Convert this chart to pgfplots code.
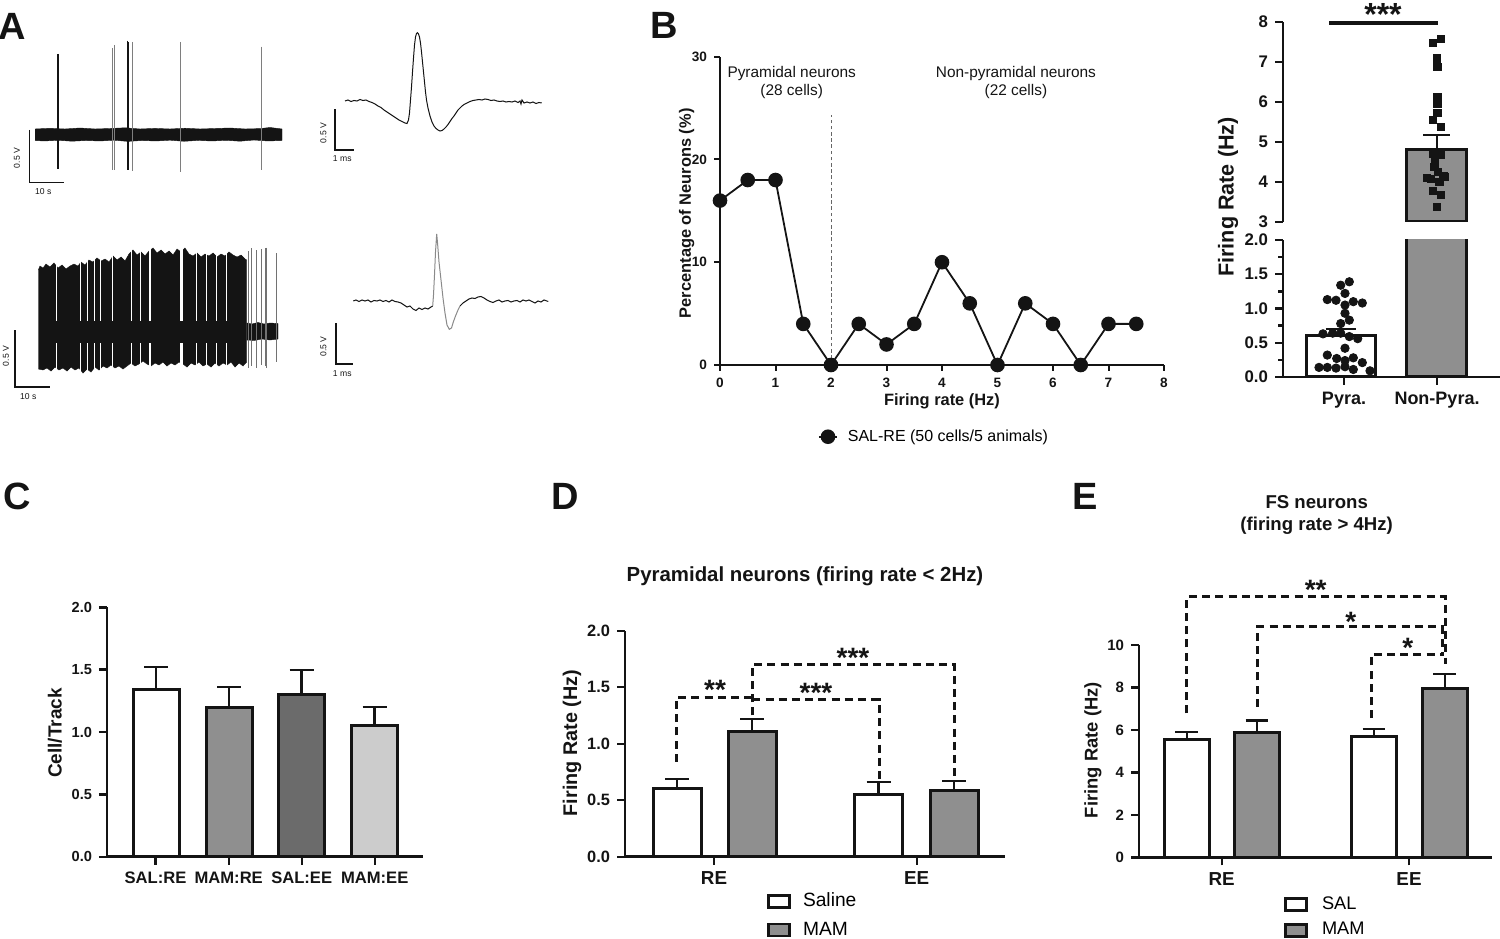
\documentclass[border=0pt]{standalone}
\usepackage{fontspec}
\setmainfont{Liberation Sans}
\usepackage{pgfplots}
\pgfplotsset{compat=1.18}
\definecolor{ink}{gray}{0.08}
\definecolor{gA}{gray}{0.56}
\definecolor{gDark}{gray}{0.42}
\definecolor{gLight}{gray}{0.80}
\pgfplotsset{
  pan/.style={scale only axis, anchor=south west,
    axis x line*=bottom, axis y line*=left,
    axis line style={line width=1.4pt, ink, -},
    tick align=outside, major tick length=4pt, minor tick length=2.5pt,
    tick style={line width=1.2pt, ink},
    /pgf/number format/assume math mode=true,
    tick label style={font=\bfseries\fontsize{7.5}{9}\selectfont, text=ink},
    label style={font=\bfseries\fontsize{9.5}{11}\selectfont, text=ink},
    enlargelimits=false},
  onedec/.style={yticklabel style={/pgf/number format/fixed, /pgf/number format/fixed zerofill, /pgf/number format/precision=1}},
  bar/.style={ybar, bar shift=0pt, draw=ink, line width=1.5pt},
  eb/.style={error bars/.cd, y dir=plus, y explicit,
    error bar style={line width=1.1pt, ink},
    error mark options={rotate=90, line width=1.1pt, ink, mark size=#1}},
  sig/.style={line width=1.5pt, ink, dash pattern=on 4pt off 2.6pt},
  boxleg/.style={legend image code/.code={\draw[##1, line width=1.3pt] (0pt,-3pt) rectangle (10.5pt,3pt);}},
  dotleg/.style={legend image code/.code={\draw[mark repeat=2, mark phase=2, ##1] plot coordinates {(0pt,0pt) (4.5pt,0pt) (9pt,0pt)};}},
}
\tikzset{star/.style={font=\bfseries\fontsize{14}{14}\selectfont, anchor=base, yshift=-8pt, inner sep=0pt, text=ink}}
\begin{document}
\begin{tikzpicture}
\useasboundingbox (0,0) rectangle (750pt,469pt);
% ---------- canvas axis (pixels) : panel A traces, letters ----------
\begin{axis}[at={(0pt,0pt)}, anchor=south west, width=750pt, height=469pt, scale only axis,
  xmin=0, xmax=1500, ymin=0, ymax=938, y dir=reverse, hide axis, clip=false]
% top-left trace: noise band
\addplot[fill=ink, draw=ink, line width=0.2pt] coordinates {
 (35,129) (50,128.3) (65,129) (80,128) (95,129) (110,128.5) (125,127.8) (140,129) (155,128.4) (170,129) (185,128.2) (200,129) (215,128.5) (230,128) (245,129) (260,128.6) (270,127.5) (282,129)
 (282,140.5) (268,141) (254,140) (240,141.2) (226,140.3) (212,141) (198,140.4) (184,141.3) (170,140.2) (156,141) (142,140.5) (128,141.4) (114,140.2) (100,141) (86,140.5) (72,141.2) (58,140.3) (44,141) (35,140.5)};
\addplot[ink!55, line width=0.35pt, unbounded coords=jump] coordinates {
 (112.7,48) (112.7,170) (112.7,nan) (114.7,45) (114.7,170) (114.7,nan)
 (132.3,42) (132.3,171) (132.3,nan) (180,42) (180,171.7) (180,nan) (261,46.7) (261,170)};
\addplot[ink, line width=0.6pt, unbounded coords=jump] coordinates {
 (127.3,40.7) (127.3,170) (127.3,nan) (128.7,42) (128.7,170)};
\addplot[ink, line width=1pt] coordinates {(57.7,54) (57.7,169)};
% top-left scale bar
\addplot[ink, line width=0.8pt] coordinates {(29.3,130) (29.3,182.7) (64.3,182.7)};
% bottom-left trace: dense bursting
\addplot[fill=ink, draw=ink, line width=0.2pt] coordinates {
 (38.3,270) (40,266) (43,268) (46,264) (50,267) (54,263) (58,268) (62,265) (66,269) (70,266) (74,264) (78,266) (81,262) (85,265) (89,260) (93,262) (97,258) (101,261) (105,259) (109,262) (113,256) (117,260) (121,257) (125,261) (129,254) (133,250) (137,255) (141,252) (145,256) (149,251) (153,248) (157,253) (161,250) (165,254) (169,251) (173,255) (177,249) (181,252) (185,248) (189,254) (193,256) (197,253) (201,257) (205,254) (209,256) (213,253) (217,257) (221,254) (225,256) (229,252) (233,255) (237,257) (241,255) (245,259) (246.7,260)
 (246.7,362) (243,366) (239,363) (235,367) (231,362) (227,365) (223,363) (219,366) (215,363) (211,367) (207,364) (203,366) (199,362) (195,365) (191,363) (187,367) (183,364) (179,362) (175,365) (171,363) (167,366) (163,362) (159,365) (155,363) (151,366) (147,364) (143,361) (139,364) (135,366) (131,363) (127,366) (123,369) (119,366) (115,368) (111,365) (107,368) (103,366) (99,370) (95,367) (91,372) (87,369) (83,373) (79,368) (75,370) (71,367) (67,371) (63,368) (59,370) (55,367) (51,371) (47,368) (43,370) (38.3,369)};
\addplot[fill=ink, draw=ink, line width=0.2pt] coordinates {
 (246.7,323) (252,324) (258,322.5) (264,324) (270,323) (278,323.5) (278,339) (270,340) (262,339) (254,340.5) (246.7,340)};
% gaps between bursts
\addplot[white, line width=0.5pt, unbounded coords=jump] coordinates {
 (56.7,240) (56.7,321) (56.7,nan) (56.7,343) (56.7,380) (56.7,nan)
 (80,240) (80,321) (80,nan) (80,343) (80,380) (80,nan)
 (87.3,240) (87.3,321) (87.3,nan) (87.3,343) (87.3,380) (87.3,nan)
 (94,240) (94,321) (94,nan) (94,343) (94,380) (94,nan)
 (100,240) (100,321) (100,nan) (100,343) (100,380) (100,nan)
 (112.3,240) (112.3,321) (112.3,nan) (112.3,343) (112.3,380) (112.3,nan)
 (131.7,240) (131.7,321) (131.7,nan) (131.7,343) (131.7,380) (131.7,nan)
 (140,240) (140,321) (140,nan) (140,343) (140,380) (140,nan)
 (196.7,240) (196.7,321) (196.7,nan) (196.7,343) (196.7,380) (196.7,nan)
 (206.7,240) (206.7,321) (206.7,nan) (206.7,343) (206.7,380) (206.7,nan)
 (216.7,240) (216.7,321) (216.7,nan) (216.7,343) (216.7,380) (216.7,nan)
 (226.7,240) (226.7,321) (226.7,nan) (226.7,343) (226.7,380)};
\addplot[white, line width=1.4pt, unbounded coords=jump] coordinates {
 (150,240) (150,321) (150,nan) (150,343) (150,380) (150,nan)
 (181.7,240) (181.7,321) (181.7,nan) (181.7,343) (181.7,380)};
\addplot[ink!60, line width=0.35pt, unbounded coords=jump] coordinates {
 (248.3,251) (248.3,368) (248.3,nan) (251.7,248) (251.7,366) (251.7,nan)
 (256.7,250) (256.7,368) (256.7,nan) (261,249) (261,365) (261,nan)
 (265,248) (265,366) (265,nan) (266.7,247.7) (266.7,368) (266.7,nan) (276.7,253) (276.7,362)};
\addplot[ink, line width=0.8pt] coordinates {(15,330) (15,386.7) (50,386.7)};
% top-right waveform
\addplot[ink, line width=0.5pt] coordinates {
 (345,101) (348,100) (351,101.5) (354,100.5) (357,101) (360,99.5) (363,100.5) (366,100) (369,101.5) (372,102.5) (375,104) (378,106) (381,107.5) (384,110) (387,112) (390,114) (393,116) (396,118) (399,120) (402,121.5) (405,123) (407,123.5) (408.5,120) (409.5,113) (410.5,100) (411.5,87) (412.5,72) (413.5,58) (414.5,45) (415.5,37) (416.5,33.5) (417.5,32.7) (418.5,34) (419.5,37) (420.5,43) (421.5,52) (422.5,62) (423.5,72) (424.5,82) (425.5,92) (426.5,100) (428,108) (430,116) (432,122) (434,126) (436,128.5) (438,130) (440,131) (442,130.5) (444,129) (446,127) (448,124.5) (450,121.5) (452,118.5) (454,116) (456,113) (458,110) (460,108) (462,106) (464,104.5) (467,103) (470,101.5) (473,100.5) (476,100) (479,99.5) (482,100) (485,99) (488,99.5) (491,100.5) (494,100) (497,101) (500,101.5) (503,101) (506,102) (509,101.5) (512,102) (515,101) (518,102.5) (520,101) (521,104) (522,100) (524,103) (527,102) (530,103) (533,102) (536,103.5) (539,102.5) (541.7,103)};
\addplot[ink, line width=0.8pt] coordinates {(335,109.3) (335,150) (354.3,150)};
% bottom-right waveform
\addplot[ink, line width=0.5pt] coordinates {
 (353.3,301) (356,300) (359,301.5) (362,300) (365,301) (368,300) (371,302) (374,300.5) (377,301) (380,300) (383,301.5) (386,300.5) (389,302) (392,300) (395,301.5) (398,302) (401,303) (404,305) (407,307) (410,306) (413,309) (416,310.5) (419,308) (422,309.5) (425,308) (428,309) (431,307) (432.7,306)};
\addplot[ink!50, line width=0.5pt] coordinates {
 (432.7,306) (433.5,295) (434.5,275) (435.5,252) (436.7,234) (437.7,245) (439,262) (441,280) (443,298) (445,313) (447,325) (449.3,329.3) (451.5,328) (453.3,322) (455.5,316) (458,310) (460,306)};
\addplot[ink, line width=0.5pt] coordinates {
 (460,306) (463,303) (466,301) (469,299) (472,298) (475,298.5) (478,297) (481,296.5) (484,298) (487,300) (490,301.5) (493,302.5) (496,301) (499,300) (502,302) (505,301) (508,300.5) (511,302) (514,301) (517,300.5) (520,302) (523,300) (526,301) (529,300) (532,301.5) (535,303) (538,301) (541,302) (544,300) (548.3,301.5)};
\addplot[ink, line width=0.8pt] coordinates {(335.7,323.3) (335.7,364) (353.3,364)};
% scale bar labels
\begin{scope}[every node/.style={font=\fontsize{4.3}{5}\selectfont, text=ink, inner sep=0pt}]
\node[rotate=90] at (axis cs:17,158) {0.5 V};
\node at (axis cs:43.3,192) {10 s};
\node[rotate=90] at (axis cs:323.3,133) {0.5 V};
\node at (axis cs:342.3,159) {1 ms};
\node[rotate=90] at (axis cs:6,356) {0.5 V};
\node at (axis cs:28.3,397) {10 s};
\node[rotate=90] at (axis cs:323.3,346.7) {0.5 V};
\node at (axis cs:342.3,373.3) {1 ms};
\end{scope}
% significance in B right
\addplot[ink, line width=1.6pt] coordinates {(1329,23) (1438,23)};
\node[star, font=\bfseries\fontsize{16}{16}\selectfont, yshift=-1.1pt] at (axis cs:1383,7) {***};
% panel letters
\begin{scope}[every node/.style={font=\bfseries\fontsize{19}{19}\selectfont, text=ink, inner sep=0pt}]
\node at (axis cs:12,26) {A};
\node at (axis cs:664,25) {B};
\node at (axis cs:17,496) {C};
\node at (axis cs:565,496) {D};
\node at (axis cs:1085,496) {E};
\end{scope}
\end{axis}

% ---------- B left: distribution ----------
\begin{axis}[pan, at={(360pt,286.5pt)}, width=222pt, height=154.15pt,
  xmin=0, xmax=8, ymin=0, ymax=30, clip=false,
  axis line style={line width=1.2pt}, major tick length=3pt, tick style={line width=1pt},
  xtick={0,...,8}, ytick={0,10,20,30},
  tick label style={font=\bfseries\fontsize{6.8}{8}\selectfont},
  xlabel={Firing rate (Hz)}, ylabel={Percentage of Neurons (\%)},
  label style={font=\bfseries\fontsize{8.2}{9}\selectfont},
  xlabel style={at={(axis description cs:0.5,-0.119)}, anchor=center},
  ylabel style={at={(axis description cs:-0.0752,0.492)}, anchor=center},
  legend style={at={(axis cs:1.76,-6.98)}, anchor=west, draw=none, fill=none, inner sep=0pt,
    column sep=3pt, font=\fontsize{8}{9}\selectfont},
  dotleg]
\addplot[gray!80!black, line width=0.5pt, dash pattern=on 1.8pt off 1.3pt, forget plot] coordinates {(2,0) (2,24.3)};
\addplot[ink, line width=0.9pt, mark=*, mark size=3.2pt, mark options={fill=ink}] coordinates {
 (0,16) (0.5,18) (1,18) (1.5,4) (2,0) (2.5,4) (3,2) (3.5,4) (4,10) (4.5,6) (5,0) (5.5,6) (6,4) (6.5,0) (7,4) (7.5,4)};
\addlegendentry{SAL-RE (50 cells/5 animals)}
\node[align=center, font=\fontsize{7.7}{9.2}\selectfont, text=ink] at (axis cs:1.292,27.49) {Pyramidal neurons\\(28 cells)};
\node[align=center, font=\fontsize{7.7}{9.2}\selectfont, text=ink] at (axis cs:5.332,27.49) {Non-pyramidal neurons\\(22 cells)};
\end{axis}

% ---------- B right: upper segment ----------
\begin{axis}[pan, at={(641.5pt,358pt)}, width=108.5pt, height=100pt,
  xmin=1283, xmax=1500, ymin=3, ymax=8, axis x line=none,
  ytick={3,...,8}, xtick=\empty,
  tick label style={font=\bfseries\fontsize{8.4}{9}\selectfont},
  ylabel={Firing Rate (Hz)}, label style={font=\bfseries\fontsize{10.8}{12}\selectfont},
  ylabel style={at={(axis description cs:-0.2535,0.125)}, anchor=center}]
\addplot[bar, fill=gA, bar width=60, eb=6.7pt] coordinates {(1436.7,4.82) +- (0,0.35)};
\addplot[only marks, mark=square*, mark size=1.8pt, ink] coordinates {
 (1432.7,7.48) (1440.7,7.57) (1436.7,7.09) (1437.3,6.87) (1437.3,6.13) (1437.3,5.95) (1437.3,5.72) (1432.7,5.55) (1440.7,5.38) (1432.7,4.70) (1440.7,4.68) (1434.3,4.38) (1430.7,4.08) (1443.3,4.16) (1438,4.26) (1439.3,4.01) (1432.7,3.78) (1440.7,3.68) (1436.7,3.38) (1426.7,4.10) (1445,4.13) (1435,4.55)};
\end{axis}
% ---------- B right: lower segment ----------
\begin{axis}[pan, at={(641.5pt,280.5pt)}, width=108.5pt, height=68.5pt,
  xmin=1283, xmax=1500, ymin=0, ymax=2,
  ytick={0,0.5,...,2}, minor y tick num=1,
  tick label style={font=\bfseries\fontsize{8.4}{9}\selectfont},
  onedec,
  xtick={1344,1437}, xticklabels={Pyra., Non-Pyra.},
  xticklabel style={font=\bfseries\fontsize{9}{10}\selectfont}]
\addplot[bar, fill=white, bar width=69, eb=7.5pt] coordinates {(1340.5,0.6) +- (0,0.10)};
\addplot[bar, fill=gA, bar width=60] coordinates {(1436.7,2.6)};
\addplot[only marks, mark=*, mark size=2.1pt, ink] coordinates {
 (1349.3,1.39) (1340.7,1.34) (1345,1.22) (1327.3,1.13) (1336,1.12) (1353.3,1.10) (1362.3,1.08) (1345,1.05) (1345,0.93) (1349.3,0.83) (1340.7,0.78) (1332.7,0.64) (1340.7,0.64) (1349.3,0.59) (1357.7,0.56) (1345,0.42) (1327.3,0.32) (1336.7,0.27) (1353.3,0.28) (1345,0.24) (1362.3,0.21) (1327.3,0.14) (1336,0.13) (1345,0.15) (1353.3,0.11) (1370,0.09) (1319,0.14) (1323,0.63)};
\end{axis}

% ---------- C ----------
\begin{axis}[pan, at={(53.5pt,40.65pt)}, width=158pt, height=124.7pt,
  xmin=107, xmax=423, ymin=0, ymax=2,
  ytick={0,0.5,...,2},
  yticklabel style={font=\bfseries\fontsize{7.3}{8}\selectfont},
  onedec,
  xtick={155.5,228.7,301.7,374.7}, xticklabels={SAL:RE, MAM:RE, SAL:EE, MAM:EE},
  xticklabel style={font=\bfseries\fontsize{8.3}{9}\selectfont},
  ylabel={Cell/Track}, ylabel style={at={(axis description cs:-0.1646,0.496)}, anchor=center}]
\addplot[bar, fill=white, bar width=46, eb=6pt] coordinates {(156,1.34) +- (0,0.18)};
\addplot[bar, fill=gA, bar width=46, eb=6pt] coordinates {(229,1.20) +- (0,0.16)};
\addplot[bar, fill=gDark, bar width=46, eb=6pt] coordinates {(301.5,1.30) +- (0,0.20)};
\addplot[bar, fill=gLight, bar width=46, eb=6pt] coordinates {(374.5,1.05) +- (0,0.15)};
\end{axis}

% ---------- D ----------
\begin{axis}[pan, at={(312.5pt,40.65pt)}, width=190pt, height=113pt,
  xmin=625, xmax=1005, ymin=0, ymax=2, clip=false,
  ytick={0,0.5,...,2},
  yticklabel style={font=\bfseries\fontsize{8.2}{9}\selectfont},
  onedec,
  xtick={714,916.7}, xticklabels={RE, EE},
  xticklabel style={font=\bfseries\fontsize{9.4}{10}\selectfont},
  ylabel={Firing Rate (Hz)}, label style={font=\bfseries\fontsize{9.9}{11}\selectfont},
  ylabel style={at={(axis description cs:-0.1395,0.503)}, anchor=center},
  title={Pyramidal neurons (firing rate < 2Hz)},
  title style={at={(axis description cs:0.4737,1.189)}, anchor=center, font=\bfseries\fontsize{10.2}{12}\selectfont, text=ink},
  boxleg, legend cell align=left,
  legend style={at={(axis cs:767,-0.52)}, anchor=west, draw=none, fill=none, inner sep=0pt,
    row sep=2pt, column sep=4pt, font=\fontsize{9.6}{11}\selectfont}]
\addplot[bar, fill=white, bar width=48, eb=6pt] coordinates {(677,0.60) +- (0,0.09) (878.5,0.55) +- (0,0.11)};
\addlegendentry{Saline}
\addplot[bar, fill=gA, bar width=48, eb=6pt] coordinates {(752,1.11) +- (0,0.11) (954,0.59) +- (0,0.08)};
\addlegendentry{MAM}
\addplot[sig, forget plot] coordinates {(676.7,0.84) (676.7,1.41) (752.3,1.41)};
\addplot[sig, forget plot] coordinates {(752.3,1.25) (752.3,1.70) (954.3,1.70) (954.3,0.68)};
\addplot[sig, forget plot] coordinates {(752.3,1.39) (879,1.39) (879,0.68)};
\node[star] at (axis cs:715,1.53) {**};
\node[star] at (axis cs:816,1.51) {***};
\node[star] at (axis cs:853,1.82) {***};
\end{axis}

% ---------- E ----------
\begin{axis}[pan, at={(569.5pt,40.35pt)}, width=176.5pt, height=106.15pt,
  xmin=1139, xmax=1492, ymin=0, ymax=10, clip=false,
  ytick={0,2,...,10},
  yticklabel style={font=\bfseries\fontsize{7.5}{8}\selectfont},
  xtick={1221.7,1409}, xticklabels={RE, EE},
  xticklabel style={font=\bfseries\fontsize{9.4}{10}\selectfont},
  ylabel={Firing Rate (Hz)}, label style={font=\bfseries\fontsize{9.2}{11}\selectfont},
  ylabel style={at={(axis description cs:-0.1303,0.505)}, anchor=center},
  title={FS neurons\\(firing rate > 4Hz)},
  title style={at={(axis description cs:0.5034,1.556)}, anchor=center, align=center, font=\bfseries\fontsize{9.3}{10.7}\selectfont, text=ink},
  boxleg, legend cell align=left,
  legend style={at={(axis cs:1284,-2.82)}, anchor=west, draw=none, fill=none, inner sep=0pt,
    row sep=1.2pt, column sep=5pt, font=\fontsize{9.1}{10}\selectfont}]
\addplot[bar, fill=white, bar width=45, eb=5.7pt] coordinates {(1186.7,5.57) +- (0,0.35) (1374,5.68) +- (0,0.35)};
\addlegendentry{SAL}
\addplot[bar, fill=gA, bar width=45, eb=5.7pt] coordinates {(1257,5.89) +- (0,0.55) (1444.7,7.93) +- (0,0.72)};
\addlegendentry{MAM}
\addplot[sig, forget plot] coordinates {(1186.7,6.78) (1186.7,12.27) (1445,12.27) (1445,9.1)};
\addplot[sig, forget plot] coordinates {(1257.3,7.09) (1257.3,10.86) (1442,10.86) (1442,9.56)};
\addplot[sig, forget plot] coordinates {(1371.7,6.55) (1371.7,9.56) (1444,9.56)};
\node[star] at (axis cs:1315.7,12.92) {**};
\node[star] at (axis cs:1350.7,11.41) {*};
\node[star] at (axis cs:1407.7,10.16) {*};
\end{axis}
\end{tikzpicture}
\end{document}
